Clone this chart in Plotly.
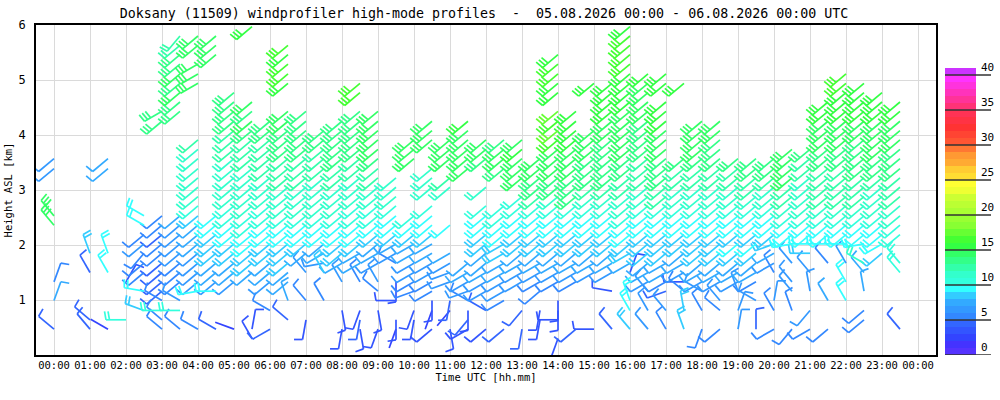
import math
import plotly.graph_objects as go

# ---------------- data ----------------
PROFILE_TIMES = [
    "00:00", "00:30", "01:00", "01:30", "02:00", "02:30", "03:00", "03:30",
    "04:00", "04:30", "05:00", "05:30", "06:00", "06:30", "07:00", "07:30",
    "08:00", "08:30", "09:00", "09:30", "10:00", "10:30", "11:00", "11:30",
    "12:00", "12:30", "13:00", "13:30", "14:00", "14:30", "15:00", "15:30",
    "16:00", "16:30", "17:00", "17:30", "18:00", "18:30", "19:00", "19:30",
    "20:00", "20:30", "21:00", "21:30", "22:00", "22:30", "23:00", "23:30",
]

GATE_HEIGHTS_KM = [
    0.30,
    0.47, 0.64, 0.81, 0.99, 1.16,
    1.33, 1.50, 1.67, 1.85, 2.02,
    2.19, 2.36, 2.53, 2.71, 2.88,
    3.05, 3.22, 3.39, 3.57, 3.74,
    3.91, 4.08, 4.25, 4.43, 4.60,
    4.77, 4.94, 5.11, 5.29, 5.46,
    5.63, 5.80, 5.97,
]

# One string per profile, one character per gate (spaces ignored).
# Speed in m/s, base-36 digit (a=10 ... h=17); '.' = no data
SPEED_ROWS = [
    ". 4..7. 5.... .ee.. ..66. ..... ..... ...",  # 00:00
    ". ..... ..... ..... ..... ..... ..... ...",  # 00:30
    ". 44... .4.8. ..... ..... ..... ..... ...",  # 01:00
    ". 2.... .9.9. ..... ..77. ..... ..... ...",  # 01:30
    ". .a... 3.... ..... ..... ..... ..... ...",  # 02:00
    ". ..8.9 .5556 599.. ..... ..... ..... ...",  # 02:30
    ". 55a54 44455 455.. ..... ..dd. ..... ...",  # 03:00
    ". 5.a6. 55566 667.. ..... ...dd ededd cc.",  # 03:30
    ". 5...9 66667 778ab bbbbb c.... .eee. ee.",  # 04:00
    ". 4...9 67788 899.. ..... ..... ....e ee.",  # 04:30
    ". 2.... 67788 99aab bbbbc ccddd d.... ...",  # 05:00
    "3 3.... .7889 9aabb bbbcc cdede ..... ..f",  # 05:30
    ". 4.5.. 67788 99aab bbccc cdd.. ..... ...",  # 06:00
    ". .4.7. 77888 99abb bcccd ddee. .fggf g..",  # 06:30
    ". .3.5. .6.78 99abb bcccd dddd. ..... ...",  # 07:00
    ". ...5. .8677 99abb bbccc dd... ..... ...",  # 07:30
    ". 3.3.. 6.788 99abb bccdd ddd.. ..... ...",  # 08:00
    ". 343.. 5.778 99aab bbccd dddd. gg... ...",  # 08:30
    ". 3.3.5 6.677 89aab bccde eeee. ..... ...",  # 09:00
    ". 23.3. 3.567 899ab bb... ..... ..... ...",  # 09:30
    ". .33.5 56677 89a.. ...ee e.... ..... ...",  # 10:00
    ". 3.235 56677 899a. bbb.. eee.. ..... ...",  # 10:30
    ". 3.24. 6667. .9... bc.ee e.... ..... ...",  # 11:00
    ". 34356 677.. ..... ..eee eef.. ..... ...",  # 11:30
    ". 3.4.6 67778 899a. b..de e.... ..... ...",  # 12:00
    ". 4..56 67788 99aa. ..dee d.... ..... ...",  # 12:30
    ". 4.4.. 66778 899aa .eeef e.... ..... ...",  # 13:00
    ". .33.5 56778 899ac ddee. ..... ..... ...",  # 13:30
    "3 .333. 56778 899ab ddeee ghgh. ffggf ...",  # 14:00
    ". 4.... 56778 899ad ddeee ffff. ..... ...",  # 14:30
    ". 3.... .6778 899ab cddde ee... .f... ...",  # 15:00
    ". 4...3 .6778 899ab cdddd deeff ff... ...",  # 15:30
    ". 8.99. .3788 99abb ccdde eeeef fffgg ggf",  # 16:00
    ". 6.6.6 67788 899ab bcccd dddee eef.. ...",  # 16:30
    ". 5.6.4 57788 899ac cddde eefff .ff.. ...",  # 17:00
    ". 8.8.5 36778 899ab bccd. ..... .f... ...",  # 17:30
    ". 5.5.6 67788 899ab bccde eee.. ..... ...",  # 18:00
    ". 5.56. 67788 899ab bccdd dee.. ..... ...",  # 18:30
    ". 6.6.6 67789 899ab bccd. ..... ..... ...",  # 19:00
    ". 4..6. 57789 899ab ccdd. ..... ..... ...",  # 19:30
    ". 5.56. .5678 899ab bcdd. ..... ..... ...",  # 20:00
    ". 5.5.6 6.6.9 99abc ceeee ..... ..... ...",  # 20:30
    ". 5.6.6 .6.89 99abb bbccd ..... ..... ...",  # 21:00
    ". 5..7. ..5.9 99abc cccdd eeeff ..... ...",  # 21:30
    ". ...9. 9.6.9 99abc cccdd eeeff fgg.. ...",  # 22:00
    ". .55.7 .7b.9 99abc ccddd deeff ff... ...",  # 22:30
    ". ..... ...89 99abb bcdde eeeff f.... ...",  # 23:00
    ". 4.... .aa.. aabbc ccddd eeeff ..... ...",  # 23:30
]

# Direction the wind blows from, in tens of degrees, base-36 digit (n=230, r=270, w=320 ...)
DIR_ROWS = [
    ". v..2. 2.... .ww.. ..nn. ..... ..... ...",  # 00:00
    ". ..... ..... ..... ..... ..... ..... ...",  # 00:30
    ". wv... .x.y. ..... ..... ..... ..... ...",  # 01:00
    ". u.... .x.y. ..... ..nn. ..... ..... ...",  # 01:30
    ". .r... 3.... ..... ..... ..... ..... ...",  # 02:00
    ". ..t.s .nnmn nuu.. ..... ..... ..... ...",  # 02:30
    ". vvrun nnnnn nnn.. ..... ..no. ..... ...",  # 03:00
    ". v.ru. nnnnn nnn.. ..... ...nn nnnnn nm.",  # 03:30
    ". u...q nnnnn nnnnn nnnnn n.... .ooo. nn.",  # 04:00
    ". u...r nnnnn nnn.. ..... ..... ....n nn.",  # 04:30
    ". t.... nnnnn nnnnn nnnnn nnnnn n.... ...",  # 05:00
    "x 1.... .nnnn nnnnn nnnnn nnnnn ..... ..n",  # 05:30
    ". o.u.. nnnnn nnnnn nnnnn nnn.. ..... ...",  # 06:00
    ". .v.y. nnnnn nnnnn nnnnn nnnn. .nnnn n..",  # 06:30
    ". .j.w. .w.nn nnnnn nnnnn nnnn. ..... ...",  # 07:00
    ". ...x. .xqon nnnnn nnnnn nn... ..... ...",  # 07:30
    ". j.h.. x.onn nnnnn nnnnn nnn.. ..... ...",  # 08:00
    ". hjk.. x.oon nnnnn nnnnn nnnn. nn... ...",  # 08:30
    ". k.h.v x.oon nnnnn nnnnn nnnn. ..... ...",  # 09:00
    ". ki.r. i.uoo nnnnn nn... ..... ..... ...",  # 09:30
    ". .jk.p ooooo nnn.. ...nn n.... ..... ...",  # 10:00
    ". n.kio ooooo nnnn. nnn.. nnn.. ..... ...",  # 10:30
    ". h.mj. ppoo. .n... nn.nn n.... ..... ...",  # 11:00
    ". omiup oon.. ..... ..nnn nnn.. ..... ...",  # 11:30
    ". n.u.o oonnn nnnn. n..nn n.... ..... ...",  # 12:00
    ". n..oo ooooo nnnn. ..nnn n.... ..... ...",  # 12:30
    ". j.m.. ooonn nnnnn .nnnn n.... ..... ...",  # 13:00
    ". .jj.n ooonn nnnnn nnnn. ..... ..... ...",  # 13:30
    "k .rii. ooonn nnnnn nnnnn nnnn. nnnnn ...",  # 14:00
    ". n.... ooonn nnnnn nnnnn nnnn. ..... ...",  # 14:30
    ". r.... .oonn nnnnn nnnnn nn... .n... ...",  # 15:00
    ". w...s .oonn nnnnn nnnnn nnnnn nn... ...",  # 15:30
    ". w.xy. .2oon nnnnn nnnnn nnnnn nnnnn nnn",  # 16:00
    ". w.x.w oonnn nnnnn nnnnn nnnnn nnn.. ...",  # 16:30
    ". x.w.p ooonn nnnnn nnnnn nnnnn .nn.. ...",  # 17:00
    ". y.z.v roonn nnnnn nnnn. ..... .n... ...",  # 17:30
    ". k.x.u oonnn nnnnn nnnnn nnn.. ..... ...",  # 18:00
    ". n.vw. oonnn nnnnn nnnnn nnn.. ..... ...",  # 18:30
    ". 1.2.y oonnn nnnnn nnnn. ..... ..... ...",  # 19:00
    ". 0..u. oonnn nnnnn nnnn. ..... ..... ...",  # 19:30
    ". o.x1. .xoop nnnnn nnnn. ..... ..... ...",  # 20:00
    ". m.y.w w.w.q nnnnn nnnnn ..... ..... ...",  # 20:30
    ". o.m.z .w.rr nnnnn nnnnn ..... ..... ...",  # 21:00
    ". n..x. ..w.r nnnnn nnnnn nnnnn ..... ...",  # 21:30
    ". ...x. x.x.r nnnnn nnnnn nnnnn nnn.. ...",  # 22:00
    ". .nn.z .wu.q nnnnn nnnnn nnnnn nn... ...",  # 22:30
    ". ..... ...no nnnnn nnnnn nnnnn n.... ...",  # 23:00
    ". w.... .ww.. nnnnn nnnnn nnnnn ..... ...",  # 23:30
]

HOUR_TICKS = list(range(25))
HOUR_LABELS = ["%02d:00" % (h % 24) for h in HOUR_TICKS]
HEIGHT_TICKS = [1, 2, 3, 4, 5, 6]

SPEED_BAND_COLORS = [
    "#5533ff", "#4433ff", "#3344ff", "#3355ff", "#3366ff",
    "#3388ff", "#3399ff", "#33aaff", "#33ccff", "#33ffff",
    "#33ffdd", "#33ffcc", "#33ffaa", "#33ff88", "#33ff66",
    "#33ff44", "#44ff33", "#66ff33", "#88ff33", "#99ff33",
    "#aaff33", "#bbff33", "#ccff33", "#eeff33", "#ffff33",
    "#ffdd33", "#ffcc33", "#ffaa33", "#ff9933", "#ff7733",
    "#ff5533", "#ff4433", "#ff3333", "#ff3344", "#ff3355",
    "#ff3377", "#ff3399", "#ff33bb", "#ff33dd", "#ff33ff",
    "#cc33ff",
]
COLORBAR_TICKS = [0, 5, 10, 15, 20, 25, 30, 35, 40]

TITLE = ("Doksany (11509) windprofiler high-mode profiles\u00a0\u00a0-\u00a0\u00a0"
         "05.08.2026 00:00 - 06.08.2026 00:00 UTC")

# ---------------- geometry ----------------
W, H = 1000, 400
ML, MR, MT, MB = 36, 8, 25, 45
X_RANGE = [-0.5, 24.5]
Y_RANGE = [0.0, 6.0]
PLOT_W = W - ML - MR
PLOT_H = H - MT - MB
MAIN_W = 900
PX_PER_HOUR = MAIN_W / (X_RANGE[1] - X_RANGE[0])
PX_PER_KM = PLOT_H / (Y_RANGE[1] - Y_RANGE[0])
CB_BOTTOM_PX, CB_TOP_PX = 355, 68
CB_PX_PER_UNIT = 7.0

SHAFT_PX = 20.0
TICK_PX = 8.5
TICK_GAP_PX = 3.5
TICK_ROT = math.radians(-80)
FONT = "DejaVu Sans Mono"


def hours(s):
    hh, mm = s.split(":")
    return int(hh) + int(mm) / 60.0


def barb(t, h, spd, d):
    sx = math.sin(math.radians(d))
    sy = math.cos(math.radians(d))
    tx = sx * math.cos(TICK_ROT) - sy * math.sin(TICK_ROT)
    ty = sx * math.sin(TICK_ROT) + sy * math.cos(TICK_ROT)

    def pt(px, py):
        return t + px / PX_PER_HOUR, h + py / PX_PER_KM

    segs = [(pt(0, 0), pt(SHAFT_PX * sx, SHAFT_PX * sy))]
    n = int(spd / 5.0 + 0.5)
    for i in range(n):
        b = SHAFT_PX - i * TICK_GAP_PX
        bx, by = b * sx, b * sy
        segs.append((pt(bx, by), pt(bx + TICK_PX * tx, by + TICK_PX * ty)))
    return segs


lines = {}
for tstr, srow, drow in zip(PROFILE_TIMES, SPEED_ROWS, DIR_ROWS):
    t = hours(tstr)
    sr = srow.replace(" ", "").ljust(len(GATE_HEIGHTS_KM), ".")
    dr = drow.replace(" ", "").ljust(len(GATE_HEIGHTS_KM), ".")
    for k, hkm in enumerate(GATE_HEIGHTS_KM):
        sc, dc = sr[k], dr[k]
        if sc == "." or dc == ".":
            continue
        spd = int(sc, 36)
        d = int(dc, 36) * 10
        xs, ys = lines.setdefault(spd, ([], []))
        for (x0, y0), (x1, y1) in barb(t, hkm, spd, d):
            xs += [x0, x1, None]
            ys += [y0, y1, None]

fig = go.Figure()
for spd in sorted(lines):
    xs, ys = lines[spd]
    fig.add_trace(go.Scatter(
        x=xs, y=ys, mode="lines",
        line=dict(color=SPEED_BAND_COLORS[min(spd, 40)], width=1.7),
        hoverinfo="skip", showlegend=False,
    ))

# colour bar
n_bands = len(SPEED_BAND_COLORS)
fig.add_trace(go.Bar(
    x=[15.5] * n_bands, y=[1] * n_bands, base=list(range(n_bands)), width=31,
    marker=dict(color=SPEED_BAND_COLORS, line=dict(width=0)),
    xaxis="x2", yaxis="y2", hoverinfo="skip", showlegend=False,
))
cx, cy = [], []
for v in COLORBAR_TICKS:
    cx += [0, 46, None]
    cy += [v, v, None]
fig.add_trace(go.Scatter(
    x=cx, y=cy, mode="lines", line=dict(color="#333333", width=1.3),
    xaxis="x2", yaxis="y2", hoverinfo="skip", showlegend=False,
))

annotations = []
for v in COLORBAR_TICKS:
    annotations.append(dict(
        x=34, y=v, xref="x2", yref="y2", text=str(v), showarrow=False,
        xanchor="left", yanchor="bottom", yshift=-1,
        font=dict(family=FONT, size=11, color="black"),
    ))
annotations.append(dict(
    x=14, y=(CB_BOTTOM_PX - 60) / CB_PX_PER_UNIT, xref="x2", yref="y2",
    text="[m/s]", showarrow=False, xanchor="center", yanchor="middle",
    font=dict(family=FONT, size=10.5, color="black"),
))

axis_font = dict(family=FONT, size=10.5, color="black")
fig.update_layout(
    width=W, height=H,
    margin=dict(l=ML, r=MR, t=MT, b=MB),
    paper_bgcolor="white", plot_bgcolor="white",
    barmode="overlay",
    title=dict(text=TITLE, x=0.484, xref="container", xanchor="center",
               y=1 - 13 / H, yref="container", yanchor="middle",
               font=dict(family=FONT, size=13.3, color="black")),
    xaxis=dict(
        domain=[0, MAIN_W / PLOT_W], range=X_RANGE,
        tickmode="array", tickvals=HOUR_TICKS, ticktext=HOUR_LABELS,
        showgrid=True, gridcolor="#dadada", gridwidth=1,
        showline=True, linecolor="black", linewidth=1.5, mirror=True,
        ticks="", zeroline=False, tickfont=axis_font, automargin=False,
        title=dict(text="Time UTC [hh.mm]", font=axis_font, standoff=3),
    ),
    yaxis=dict(
        domain=[0, 1], range=Y_RANGE,
        tickmode="array", tickvals=HEIGHT_TICKS,
        showgrid=True, gridcolor="#dadada", gridwidth=1,
        showline=True, linecolor="black", linewidth=1.5, mirror=True,
        ticks="outside", ticklen=6, tickcolor="rgba(0,0,0,0)",
        zeroline=False, tickfont=dict(family=FONT, size=12, color="black"),
        automargin=False,
        title=dict(text="Height ASL [km]", font=axis_font, standoff=4),
    ),
    xaxis2=dict(domain=[(945 - ML) / PLOT_W, (991 - ML) / PLOT_W], range=[0, 46],
                visible=False, anchor="y2", fixedrange=True),
    yaxis2=dict(domain=[0, (CB_BOTTOM_PX - CB_TOP_PX) / PLOT_H],
                range=[0, (CB_BOTTOM_PX - CB_TOP_PX) / CB_PX_PER_UNIT],
                visible=False, anchor="x2", fixedrange=True),
    annotations=annotations,
)

fig.write_html("out.html", config={"displayModeBar": False},
               post_script="document.body.style.margin='0';")
